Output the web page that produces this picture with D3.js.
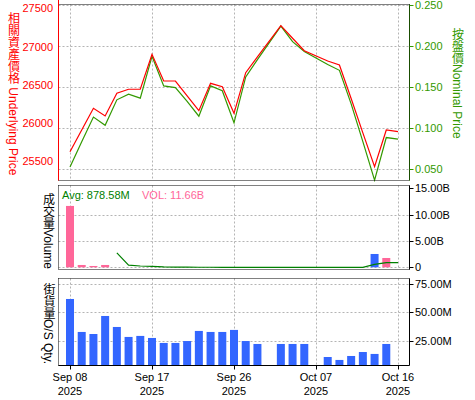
<!DOCTYPE html>
<html>
<head>
<meta charset="utf-8">
<script src="https://cdn.jsdelivr.net/npm/d3@7"></script>
<style>
  html, body { margin: 0; padding: 0; background: #fff; }
  svg { display: block; }
  text { font-family: "Liberation Sans", Arial, "Noto Sans CJK TC", sans-serif; }
  .vt { writing-mode: vertical-rl; text-orientation: mixed; }
</style>
</head>
<body>
<div id="chart"></div>
<script>
// ---------------- data ----------------
const dates = ["2025-09-08","2025-09-09","2025-09-10","2025-09-11","2025-09-12",
  "2025-09-15","2025-09-16","2025-09-17","2025-09-18","2025-09-19",
  "2025-09-22","2025-09-23","2025-09-24","2025-09-25","2025-09-26",
  "2025-09-29","2025-09-30","2025-10-01","2025-10-02","2025-10-03",
  "2025-10-06","2025-10-07","2025-10-08","2025-10-09","2025-10-10",
  "2025-10-13","2025-10-14","2025-10-15","2025-10-16"];
const tickDates = ["2025-09-08","2025-09-17","2025-09-26","2025-10-07","2025-10-16"];
const tickLabels = [["Sep 08","2025"],["Sep 17","2025"],["Sep 26","2025"],["Oct 07","2025"],["Oct 16","2025"]];

const underlying = [25624, 25908, 26193, 26092, 26389, 26442, 26442, 26900, 26550, 26550,
  26354, 26161, 26520, 26476, 26127, 26659, 26865, null, 27275, 27110,
  26947, null, 26812, 26760, 26320, 25870, 25428, 25908, 25886];
const nominal = [0.052, 0.083, 0.113, 0.103, 0.134, 0.141, 0.136, 0.187, 0.151, 0.149,
  0.132, 0.114, 0.151, 0.145, 0.106, 0.162, 0.183, null, 0.224, 0.205,
  0.193, null, 0.177, 0.170, 0.129, 0.083, 0.036, 0.088, 0.086];

const volume = [11.66, 0.44, 0.25, 0.44, 0, 0, 0, 0, 0, 0,
  0, 0, 0, 0, 0, 0, 0, null, 0, 0,
  0, null, 0, 0, 0, 0, 2.53, 1.77, 0];
const volumeDir = ["down","down","down","down","","","","","","",
  "","","","","","","","","","",
  "","","","","","","up","down",""];
const volumeAvg = [null, null, null, null, 2.75, 0.40, 0.25, 0.18, 0.08, 0.03,
  0.02, 0.01, 0.01, 0, 0, 0, 0, null, 0, 0,
  0, null, 0, 0, 0, 0, 0.55, 0.9, 0.9];

const osQty = [61.8, 32.7, 30.9, 46.8, 37.1, 28.3, 29.2, 27.4, 23.0, 23.0,
  24.7, 33.6, 32.7, 32.7, 34.5, 24.7, 22.1, null, 22.1, 22.1,
  22.1, null, 10.6, 8.0, 11.5, 15.0, 13.3, 22.1, null];

const leftTicks = [25500, 26000, 26500, 27000, 27500];
const rightTicks = [0.05, 0.10, 0.15, 0.20, 0.25];
const volTicks = [0, 5, 10, 15];
const osTicks = [25, 50, 75];

const avgLabel = "Avg: 878.58M";
const volLabel = "VOL: 11.66B";

// ---------------- layout ----------------
const W = 475, H = 400;
const L = 58.5, R = 409.5;
const top1 = 4.5, bot1 = 180.5;
const top2 = 185.5, bot2 = 269.5;
const top3 = 278.5, bot3 = 365.5;

const RED = "#ff0000", GREEN = "#339900", PINK = "#ff6699", BLUE = "#3366ff", DGREEN = "#008000";
const GRID = "#b4b4b4";

const svg = d3.select("#chart").append("svg").attr("width", W).attr("height", H);

const x = d3.scalePoint().domain(dates).range([70, 398]);
const yL = d3.scaleLinear().domain([25253, 27559]).range([180, 4]);
const yR = d3.scaleLinear().domain([0.0362, 0.2509]).range([180, 4]);
const yV = d3.scaleLinear().domain([-0.38, 15.64]).range([269.3, 185]);
const yO = d3.scaleLinear().domain([3.1, 79.7]).range([365.5, 278.7]);

const px = v => Math.round(v) + 0.5;

function hGrid(yScale, ticks, yTop, yBot) {
  svg.append("g").selectAll("line").data(ticks).join("line")
    .attr("x1", L).attr("x2", R)
    .attr("y1", d => px(yScale(d))).attr("y2", d => px(yScale(d)))
    .attr("stroke", GRID).attr("stroke-dasharray", "2,2");
}
function vGrid(yTop, yBot) {
  svg.append("g").selectAll("line").data(tickDates).join("line")
    .attr("x1", d => px(x(d))).attr("x2", d => px(x(d)))
    .attr("y1", yTop).attr("y2", yBot)
    .attr("stroke", GRID).attr("stroke-dasharray", "2,2");
}
function dotted(x1, y1, x2, y2, color) {
  svg.append("line").attr("x1", x1).attr("y1", y1).attr("x2", x2).attr("y2", y2)
    .attr("stroke", color || "#000").attr("stroke-dasharray", "1,1");
}
function solid(x1, y1, x2, y2, color) {
  svg.append("line").attr("x1", x1).attr("y1", y1).attr("x2", x2).attr("y2", y2)
    .attr("stroke", color || "#000");
}
function rightAxis(yScale, ticks, fmt, color) {
  const g = svg.append("g");
  g.selectAll("line").data(ticks).join("line")
    .attr("x1", R).attr("x2", R + 4)
    .attr("y1", d => px(yScale(d))).attr("y2", d => px(yScale(d)))
    .attr("stroke", color);
  g.selectAll("text").data(ticks).join("text")
    .attr("x", 415).attr("y", d => yScale(d))
    .attr("dy", "0.36em")
    .attr("font-size", 11).attr("fill", color)
    .text(fmt);
}

// ---------------- panel 1 ----------------
hGrid(yR, rightTicks, top1, bot1);
vGrid(top1, bot1);

const lineL = d3.line().x(d => x(d.d)).y(d => yL(d.v));
const lineR = d3.line().x(d => x(d.d)).y(d => yR(d.v));
const uPts = dates.map((d, i) => ({d, v: underlying[i]})).filter(p => p.v != null);
const nPts = dates.map((d, i) => ({d, v: nominal[i]})).filter(p => p.v != null);

svg.append("path").datum(nPts).attr("d", lineR)
  .attr("fill", "none").attr("stroke", GREEN).attr("stroke-width", 1.2);
svg.append("path").datum(uPts).attr("d", lineL)
  .attr("fill", "none").attr("stroke", RED).attr("stroke-width", 1.2);

dotted(L, top1, R, top1);
dotted(L, bot1, R, bot1);
solid(L, 0, L, bot1, RED);
solid(R, top1, R, bot1, GREEN);
dotted(R, top1, R, bot1, "#000");

svg.append("g").selectAll("text").data(leftTicks).join("text")
  .attr("x", 53).attr("y", d => yL(d)).attr("dy", "0.36em")
  .attr("text-anchor", "end").attr("font-size", 11).attr("fill", RED)
  .text(d => d);
rightAxis(yR, rightTicks, d => d3.format(".3f")(d), GREEN);

// ---------------- panel 2 ----------------
hGrid(yV, [0, 5, 10], top2, bot2);
vGrid(top2, bot2);

svg.append("g").selectAll("rect")
  .data(dates.map((d, i) => ({d, v: volume[i], dir: volumeDir[i]})).filter(p => p.v))
  .join("rect")
  .attr("x", d => x(d.d) - 4).attr("width", 8)
  .attr("y", d => yV(d.v)).attr("height", d => yV(0) - yV(d.v))
  .attr("fill", d => d.dir === "up" ? BLUE : PINK);

const avgPts = dates.map((d, i) => ({d, v: volumeAvg[i]})).filter(p => p.v != null);
svg.append("path").datum(avgPts)
  .attr("d", d3.line().x(d => x(d.d)).y(d => yV(d.v)))
  .attr("fill", "none").attr("stroke", DGREEN).attr("stroke-width", 1.2);

dotted(L, top2, R, top2);
dotted(L, bot2, R, bot2);
dotted(L, top2, L, bot2);
solid(R, top2, R, bot2);
rightAxis(yV, volTicks, d => d === 0 ? "0" : d3.format(".2f")(d) + "B", "#000");

svg.append("text").attr("x", 62).attr("y", 199).attr("font-size", 11)
  .attr("fill", DGREEN).text(avgLabel);
svg.append("text").attr("x", 142).attr("y", 199).attr("font-size", 11)
  .attr("fill", PINK).text(volLabel);

// ---------------- panel 3 ----------------
hGrid(yO, osTicks, top3, bot3);
vGrid(top3, bot3);

svg.append("g").selectAll("rect")
  .data(dates.map((d, i) => ({d, v: osQty[i]})).filter(p => p.v != null))
  .join("rect")
  .attr("x", d => x(d.d) - 4).attr("width", 8)
  .attr("y", d => yO(d.v)).attr("height", d => yO.range()[0] - yO(d.v))
  .attr("fill", BLUE);

dotted(L, top3, R, top3);
dotted(L, top3, L, bot3);
solid(L, bot3, R, bot3);
solid(R, top3, R, bot3);
rightAxis(yO, osTicks, d => d3.format(".2f")(d) + "M", "#000");

// x axis
const xg = svg.append("g");
xg.selectAll("line").data(tickDates).join("line")
  .attr("x1", d => px(x(d))).attr("x2", d => px(x(d)))
  .attr("y1", bot3).attr("y2", bot3 + 4).attr("stroke", "#000");
tickDates.forEach((d, i) => {
  const t = xg.append("text").attr("x", x(d)).attr("text-anchor", "middle")
    .attr("font-size", 11).attr("fill", "#000");
  t.append("tspan").attr("x", x(d)).attr("y", 381).text(tickLabels[i][0]);
  t.append("tspan").attr("x", x(d)).attr("y", 395).text(tickLabels[i][1]);
});

// ---------------- vertical titles ----------------
function vTitle(xc, y, txt, color) {
  svg.append("text").attr("class", "vt")
    .attr("x", xc).attr("y", y)
    .attr("font-size", 12).attr("fill", color)
    .text(txt);
}
vTitle(12.5, 12, "相關資產價格 Underlying Price", RED);
vTitle(456.5, 28, "按盤價Nominal Price", GREEN);
vTitle(47.5, 193, "成交量Volume", "#000");
vTitle(48, 283, "街貨量O/S Qty.", "#000");
</script>
</body>
</html>
